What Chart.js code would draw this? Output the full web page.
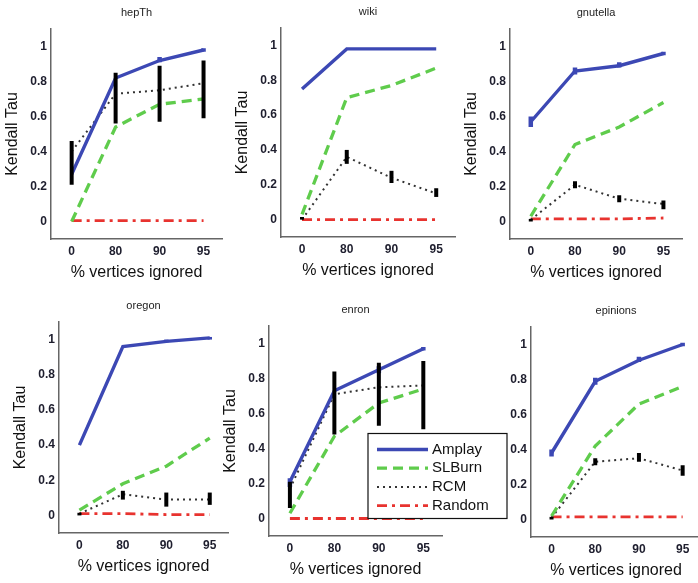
<!DOCTYPE html>
<html>
<head>
<meta charset="utf-8">
<script src="https://cdn.jsdelivr.net/npm/chart.js@4.4.1/dist/chart.umd.min.js"></script>
<style>
  html, body { margin: 0; padding: 0; background: #fff; overflow: hidden; }
  #wrap { position: relative; width: 698px; height: 583px; }
  canvas { position: absolute; }
</style>
</head>
<body>
<div id="wrap"></div>
<script>
// ---- data ----
const panelNames = ["hepTh", "wiki", "gnutella", "oregon", "enron", "epinions"];
const xLabels = ["0", "80", "90", "95"];
const yTickValues = [0, 0.2, 0.4, 0.6, 0.8, 1];
const seriesNames = ["Amplay", "SLBurn", "RCM", "Random"];

const amplay = [
  [0.27, 0.82, 0.92, 0.98],
  [0.75, 0.98, 0.98, 0.98],
  [0.57, 0.86, 0.89, 0.96],
  [0.40, 0.96, 0.99, 1.01],
  [0.21, 0.73, 0.85, 0.97],
  [0.38, 0.79, 0.91, 1.00]
];
const slburn = [
  [0.00, 0.54, 0.67, 0.70],
  [0.03, 0.70, 0.77, 0.87],
  [0.03, 0.44, 0.54, 0.68],
  [0.03, 0.18, 0.28, 0.44],
  [0.03, 0.47, 0.66, 0.74],
  [0.02, 0.42, 0.66, 0.76]
];
const rcm = [
  [0.40, 0.73, 0.75, 0.79],
  [0.00, 0.36, 0.24, 0.15],
  [0.01, 0.21, 0.13, 0.10],
  [0.01, 0.12, 0.09, 0.09],
  [0.17, 0.71, 0.75, 0.76],
  [0.01, 0.33, 0.35, 0.28]
];
const random = [
  [0.005, 0.005, 0.005, 0.005],
  [0.00, 0.00, 0.00, 0.00],
  [0.015, 0.015, 0.015, 0.02],
  [0.01, 0.01, 0.005, 0.005],
  [0.00, 0.00, 0.00, 0.00],
  [0.015, 0.015, 0.015, 0.015]
];

// error bar ranges (null = no visible bar)
const amplayLow = [
  [null, null, 0.91, 0.97],
  [null, null, null, null],
  [0.54, 0.84, 0.88, 0.95],
  [null, null, 0.985, 1.0],
  [0.18, null, 0.83, 0.96],
  [0.36, 0.77, 0.90, 0.99]
];
const amplayHigh = [
  [null, null, 0.94, 0.99],
  [null, null, null, null],
  [0.60, 0.88, 0.91, 0.97],
  [null, null, 1.0, 1.015],
  [0.23, null, 0.87, 0.98],
  [0.40, 0.81, 0.93, 1.01]
];
const rcmLow = [
  [0.21, 0.56, 0.57, 0.59],
  [0.00, 0.32, 0.21, 0.13],
  [0.00, 0.19, 0.11, 0.07],
  [0.00, 0.09, 0.05, 0.06],
  [0.06, 0.48, 0.53, 0.51],
  [0.00, 0.31, 0.33, 0.25]
];
const rcmHigh = [
  [0.46, 0.85, 0.89, 0.92],
  [0.015, 0.40, 0.28, 0.18],
  [0.015, 0.23, 0.15, 0.12],
  [0.015, 0.14, 0.13, 0.13],
  [0.21, 0.84, 0.89, 0.90],
  [0.015, 0.35, 0.38, 0.31]
];

// ---- layout ----
// plot box of each panel in page pixels: left, top, right, bottom
const plotBoxes = [
  [51, 28.5, 222, 238.5],
  [281, 27.5, 455, 236.5],
  [510, 28.5, 682, 238.5],
  [59, 321.5, 228, 532.5],
  [269, 325.5, 442, 535.5],
  [531, 326.5, 701, 536.5]
];
const legendBox = { left: 368, top: 433, width: 139, height: 85 };

const Y_AXIS_W = 52, TITLE_H = 30, X_AXIS_H = 48;
const FONT = "'Liberation Sans', Arial, Helvetica, sans-serif";
const colors = { Amplay: "#3c48b4", SLBurn: "#5fcc4c", RCM: "#333333", Random: "#e8332f" };

// vertical error bars drawn through the chart scales
const errorBarPlugin = {
  id: "errorBars",
  afterDatasetsDraw(chart) {
    const xs = chart.scales.x, ys = chart.scales.y, ctx = chart.ctx;
    ctx.save();
    chart.data.datasets.forEach(ds => {
      if (!ds.errLow) return;
      ctx.strokeStyle = ds.errColor;
      ctx.lineWidth = ds.errWidth;
      ctx.lineCap = "butt";
      ctx.setLineDash([]);
      ds.errLow.forEach((lo, i) => {
        const hi = ds.errHigh[i];
        if (lo == null || hi == null) return;
        const px = xs.getPixelForValue(i);
        ctx.beginPath();
        ctx.moveTo(px, ys.getPixelForValue(lo));
        ctx.lineTo(px, ys.getPixelForValue(hi));
        ctx.stroke();
      });
    });
    ctx.restore();
  }
};

// boxed legend placed inside the plot, as in the figure
const boxLegendPlugin = {
  id: "boxLegend",
  afterDraw(chart, args, opts) {
    if (!opts.show) return;
    const ctx = chart.ctx;
    const x0 = opts.left - opts.offsetX, y0 = opts.top - opts.offsetY;
    ctx.save();
    ctx.fillStyle = "#fff";
    ctx.fillRect(x0, y0, opts.width, opts.height);
    ctx.strokeStyle = "#111";
    ctx.lineWidth = 1.2;
    ctx.strokeRect(x0, y0, opts.width, opts.height);
    ctx.font = "15px " + FONT;
    ctx.textBaseline = "middle";
    chart.data.datasets.forEach((ds, k) => {
      const yy = y0 + 16 + k * 18.7;
      ctx.strokeStyle = ds.borderColor;
      ctx.lineWidth = ds.borderWidth;
      ctx.setLineDash(ds.borderDash || []);
      ctx.beginPath();
      ctx.moveTo(x0 + 9, yy);
      ctx.lineTo(x0 + 60, yy);
      ctx.stroke();
      ctx.setLineDash([]);
      ctx.fillStyle = "#111";
      ctx.fillText(ds.label, x0 + 64, yy);
    });
    ctx.restore();
  }
};

const wrap = document.getElementById("wrap");

panelNames.forEach((name, p) => {
  const [L, T, R, B] = plotBoxes[p];
  const padRight = p === 4 ? 75 : 8;
  const cLeft = L - Y_AXIS_W, cTop = T - TITLE_H;
  const w = Math.round(R - L + Y_AXIS_W + padRight);
  const h = Math.round(B - T + TITLE_H + X_AXIS_H);

  const canvas = document.createElement("canvas");
  canvas.width = w; canvas.height = h;
  canvas.style.left = cLeft + "px";
  canvas.style.top = cTop + "px";
  canvas.style.width = w + "px";
  canvas.style.height = h + "px";
  if (p === 4) canvas.style.zIndex = 5;
  wrap.appendChild(canvas);

  const pts = arr => arr.map((v, i) => ({ x: i, y: v }));

  new Chart(canvas.getContext("2d"), {
    type: "line",
    data: {
      datasets: [
        {
          label: seriesNames[0], data: pts(amplay[p]),
          borderColor: colors.Amplay, borderWidth: 3.4,
          errLow: amplayLow[p], errHigh: amplayHigh[p], errColor: colors.Amplay, errWidth: 4.5
        },
        {
          label: seriesNames[1], data: pts(slburn[p]),
          borderColor: colors.SLBurn, borderWidth: 3.3, borderDash: [10, 6]
        },
        {
          label: seriesNames[2], data: pts(rcm[p]),
          borderColor: colors.RCM, borderWidth: 2, borderDash: [2, 4],
          errLow: rcmLow[p], errHigh: rcmHigh[p], errColor: "#000", errWidth: 4
        },
        {
          label: seriesNames[3], data: pts(random[p]),
          borderColor: colors.Random, borderWidth: 2.8, borderDash: [10, 5, 3, 5]
        }
      ]
    },
    options: {
      responsive: false,
      animation: false,
      layout: { padding: { left: 0, right: padRight, top: 0, bottom: 0 } },
      elements: { point: { radius: 0 }, line: { tension: 0 } },
      plugins: {
        legend: { display: false },
        tooltip: { enabled: false },
        title: {
          display: true, text: name, fullSize: false,
          color: "#222", font: { family: FONT, size: 11, weight: "normal" },
          padding: { top: 7, bottom: 9.8 }
        },
        boxLegend: Object.assign({ show: p === 4, offsetX: cLeft, offsetY: cTop }, legendBox)
      },
      scales: {
        x: {
          type: "linear", min: -0.47, max: 3.42,
          grid: { display: false, drawTicks: false },
          border: { display: true, color: "#666", width: 1.5 },
          afterBuildTicks: s => { s.ticks = xLabels.map((_, i) => ({ value: i })); },
          afterFit: s => { s.height = X_AXIS_H; },
          ticks: {
            padding: 5, color: "#1e1e2e", maxRotation: 0,
            font: { family: FONT, size: 12, weight: "bold" },
            callback: v => xLabels[v]
          },
          title: {
            display: true, text: "% vertices ignored", color: "#111",
            font: { family: FONT, size: 16 }, padding: { top: 0, bottom: 5 }
          }
        },
        y: {
          min: -0.1, max: 1.1,
          grid: { display: false, drawTicks: false },
          border: { display: true, color: "#666", width: 1.5 },
          afterBuildTicks: s => { s.ticks = yTickValues.map(v => ({ value: v })); },
          afterFit: s => { s.width = Y_AXIS_W; },
          ticks: {
            padding: 4, color: "#1e1e2e",
            font: { family: FONT, size: 12, weight: "bold" },
            callback: v => String(Math.round(v * 10) / 10)
          },
          title: {
            display: p !== 5, text: "Kendall Tau", color: "#111",
            font: { family: FONT, size: 16 }, padding: { top: 4, bottom: 0 }
          }
        }
      }
    },
    plugins: [errorBarPlugin, boxLegendPlugin]
  });
});
</script>
</body>
</html>
